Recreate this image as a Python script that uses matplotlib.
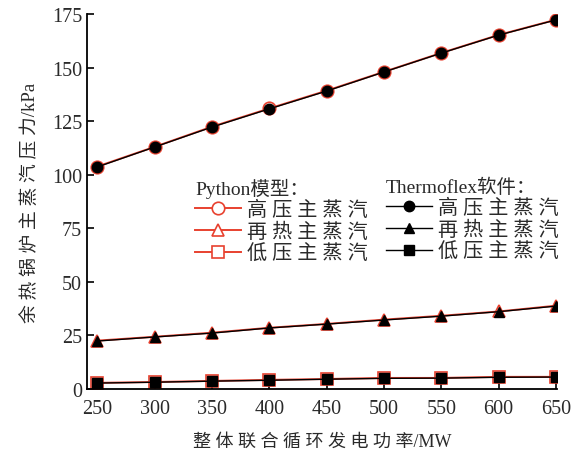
import matplotlib
matplotlib.use("Agg")
import matplotlib.pyplot as plt

power = [250, 300, 350, 400, 450, 500, 550, 600, 650]

py_high = [103.8, 113.0, 122.4, 130.9, 139.2, 148.0, 156.8, 165.2, 172.3]
py_reheat = [22.6, 24.4, 26.3, 28.6, 30.4, 32.4, 34.2, 36.2, 38.9]
py_low = [2.9, 3.3, 3.8, 4.3, 4.7, 5.2, 5.2, 5.7, 5.7]

tf_high = [103.6, 112.9, 122.2, 130.7, 139.0, 147.9, 156.7, 165.1, 172.2]
tf_reheat = [22.4, 24.3, 26.1, 28.5, 30.3, 32.2, 34.0, 36.1, 38.7]
tf_low = [2.8, 3.2, 3.7, 4.1, 4.6, 5.0, 5.1, 5.5, 5.6]

series_names = ["高 压 主 蒸 汽", "再 热 主 蒸 汽", "低 压 主 蒸 汽"]
py_title = "Python模型："
tf_title = "Thermoflex软件："
xlabel = "整 体 联 合 循 环 发 电 功 率/MW"
ylabel = "余 热 锅 炉 主 蒸 汽 压 力/kPa"
yticks = [0, 25, 50, 75, 100, 125, 150, 175]

plt.rcParams['font.family'] = ['Liberation Serif', 'Noto Sans CJK SC', 'DejaVu Sans']
txt = "#2a2a2a"
red = "#e8412f"

fig = plt.figure(figsize=(5.72, 4.52), dpi=100)
ax = fig.add_axes([0.152, 0.137, 0.822, 0.830])

markers = ["o", "^", "s"]
py_handles = []
tf_handles = []
for vals, m in zip([py_high, py_reheat, py_low], markers):
    h, = ax.plot(power, vals, color=red, lw=1.4, marker=m, markersize=9,
                 markerfacecolor="white", markeredgecolor=red, markeredgewidth=1.2, zorder=2)
    py_handles.append(h)
for vals, m in zip([tf_high, tf_reheat, tf_low], markers):
    h, = ax.plot(power, vals, color="black", lw=1.0, marker=m, markersize=7.5,
                 markerfacecolor="black", markeredgecolor="black", zorder=3)
    tf_handles.append(h)

ax.set_xlim(241, 651)
ax.set_ylim(0, 175)
ax.set_xticks(power)
ax.set_yticks(yticks)
for s in ["top", "right"]:
    ax.spines[s].set_visible(False)
for s in ["left", "bottom"]:
    ax.spines[s].set_linewidth(1.3)
ax.tick_params(direction="in", length=5, width=1.2, labelsize=14.5, colors="black", labelcolor=txt)
ax.tick_params(axis="x", pad=7)
ax.set_xlabel(xlabel, fontsize=13, color=txt, labelpad=11, fontweight="light")
ax.set_ylabel(ylabel, fontsize=13.5, color=txt, labelpad=9, fontweight="light")

common = dict(frameon=False, handlelength=2.3, handletextpad=0.3,
              labelspacing=0.14, borderpad=0.2, alignment="left", labelcolor=txt,
              prop={"size": 14.5, "weight": "light"},
              title_fontproperties={"size": 14, "weight": "light"})
leg1 = ax.legend(py_handles, series_names, loc="upper left", bbox_to_anchor=(0.2, 0.6), title=py_title, **common)
leg1.get_title().set_color(txt)
ax.add_artist(leg1)
leg2 = ax.legend(tf_handles, series_names, loc="upper left", bbox_to_anchor=(0.605, 0.6), title=tf_title, **common)
leg2.get_title().set_color(txt)

fig.savefig("out.png", dpi=100)
